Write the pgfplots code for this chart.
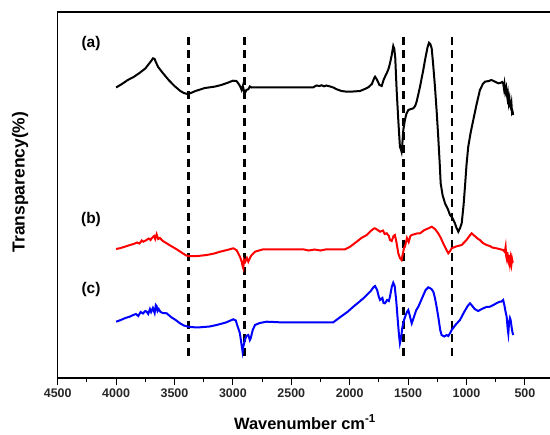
\documentclass[border=0pt]{standalone}
\usepackage{pgfplots}
\pgfplotsset{compat=1.18}
\usepackage{fontspec}
\setmainfont{Liberation Sans}
\begin{document}
\begin{tikzpicture}
\begin{axis}[
  at={(0,0)}, anchor=south west,
  scale only axis,
  width=496.4bp, height=366bp,
  x dir=reverse, y dir=reverse,
  xmin=250, xmax=4500, ymin=12, ymax=378,
  xtick={500,1000,...,4500},
  minor x tick num=1,
  xtick pos=bottom, xtick align=outside,
  major tick length=7bp, minor tick length=4bp,
  ytick=\empty,
  axis line style={line width=1.2bp},
  every tick/.style={line width=1bp, black},
  /pgf/number format/assume math mode=true,
  /pgf/number format/1000 sep={},
  xticklabel style={font=\bfseries\fontsize{12.5}{14}\selectfont, text=black!85},
  clip mode=individual,
]
% dashed markers
\addplot[black, line width=2.2bp, dash pattern=on 8bp off 5.5bp] coordinates {(3380,37) (3380,360)};
\addplot[black, line width=2.2bp, dash pattern=on 8bp off 5.5bp] coordinates {(2900,37) (2900,360)};
\addplot[black, line width=2.2bp, dash pattern=on 8bp off 5.5bp] coordinates {(1540,37) (1540,360)};
\addplot[black, line width=2.2bp, dash pattern=on 8bp off 5.5bp] coordinates {(1125,37) (1125,360)};
% (a)
\addplot[black, line width=2bp] coordinates {
(4000,87.5) (3950,84) (3900,80) (3850,77) (3800,73) (3750,68.5) (3720,64) (3700,61) (3684,58.3) (3670,59) (3660,62) (3640,67) (3600,73) (3550,80) (3500,86) (3450,91) (3420,93) (3390,94) (3360,93) (3320,91) (3280,89.5) (3240,88) (3196,87.3) (3150,86.5) (3100,85) (3050,83) (3000,80.7) (2970,81) (2954,83.3) (2935,87) (2925,90) (2915,86) (2905,91) (2897,93.3) (2885,90) (2868,89.3) (2855,86.5) (2840,87.5) (2825,87.3) (2600,87.3) (2312,87.3) (2285,85.5) (2260,86) (2240,85.3) (2220,86.3) (2200,85.5) (2167,86.5) (2140,87.5) (2111,89.3) (2070,91) (2026,91.7) (1970,91.5) (1912,91) (1870,89) (1841,87.3) (1810,84) (1790,78) (1783,76.7) (1770,79) (1745,85) (1726,86) (1710,80) (1695,76) (1683,73.3) (1665,68) (1655,63.3) (1640,55) (1627,46) (1618,49) (1610,58) (1598,90) (1584,120) (1570,146.7) (1560,150) (1556,151.7) (1550,145) (1541,130) (1530,122) (1527,120) (1515,114) (1498,110) (1475,109) (1455,108.3) (1440,106) (1427,101.7) (1410,93) (1398,86.7) (1370,70) (1355,60) (1335,48) (1321,42.7) (1310,44) (1298,48.3) (1285,65) (1270,86.7) (1255,112) (1242,136.7) (1230,162) (1221,183.3) (1205,195) (1184,203.3) (1160,209) (1141,215) (1120,218) (1099,223.3) (1085,228) (1070,231.7) (1055,228) (1041,223.3) (1025,205) (1013,186.7) (1000,165) (985,146.7) (965,133) (942,120) (915,105) (885,90) (860,84) (842,81.7) (810,81) (786,80) (760,81.5) (729,83.3) (710,83) (695,82) (686,83.3) (680,88) (675,84) (668,92) (660,88) (656,93.3) (650,98) (645,94) (638,103) (632,99) (628,105) (620,108) (615,104) (610,113) (605,112) (600,115)};
% (b)
\addplot[red, line width=2bp] coordinates {
(4000,249) (3960,248) (3920,246.5) (3881,245) (3850,244) (3820,242.5) (3800,243.5) (3780,240.5) (3767,241.7) (3740,240) (3720,238.5) (3705,240) (3696,238.3) (3675,236) (3665,239) (3653,234.3) (3640,239) (3625,238) (3600,241) (3567,243.3) (3530,246) (3481,249.3) (3440,252.5) (3400,255.5) (3382,256) (3300,256) (3224,255) (3160,253.5) (3110,251.7) (3050,250) (2997,248.3) (2970,250) (2954,253.3) (2935,258) (2925,261.7) (2915,267) (2911,268.3) (2905,260) (2895,262) (2880,258) (2868,261.7) (2850,257) (2839,255) (2811,251.7) (2782,250.7) (2740,249.3) (2500,249.3) (2400,249.3) (2350,250.5) (2300,249.5) (2250,250.5) (2200,249.3) (2040,249.3) (2000,247) (1940,241.7) (1900,238) (1854,235) (1820,231) (1790,228.3) (1783,228.3) (1760,230) (1740,231.7) (1715,230.5) (1700,234) (1683,233.3) (1665,236) (1655,240) (1640,241) (1625,236) (1613,235) (1600,242) (1584,253.3) (1570,258) (1556,260) (1545,254) (1535,248) (1527,246.7) (1510,238) (1495,242) (1480,236) (1469,235) (1440,234) (1420,233.3) (1398,233.3) (1360,230) (1320,228) (1298,226.7) (1270,229) (1242,233.3) (1220,238) (1199,243.3) (1175,249) (1156,253.3) (1140,251) (1127,248.3) (1090,246.5) (1041,245) (1000,240) (975,236) (956,233.3) (930,236) (900,239) (885,240) (860,243) (828,245) (800,246) (780,247.5) (743,248.3) (720,249) (686,250) (672,252) (665,247) (660,256) (656,258.3) (650,252) (645,260) (640,262) (635,255) (628,263.3) (622,258) (615,264) (610,259) (605,262) (600,261.7)};
% (c)
\addplot[blue, line width=2bp] coordinates {
(4000,321.7) (3960,320) (3920,318) (3880,316.5) (3853,315) (3830,314) (3810,316) (3790,312) (3770,313.5) (3750,311) (3738,311.7) (3725,314) (3710,309) (3700,312) (3685,308) (3670,313) (3660,305) (3653,306) (3645,311) (3635,309) (3620,312) (3600,313) (3567,313.3) (3530,317) (3490,320) (3453,323.3) (3420,325.5) (3382,326.7) (3330,327.3) (3282,327.3) (3200,326.5) (3139,325) (3060,322.5) (2997,319.3) (2975,320.5) (2968,323.3) (2955,328) (2940,333.3) (2928,343) (2917,351.7) (2910,346) (2897,340) (2885,336) (2868,335) (2855,340) (2848,338.3) (2830,330) (2811,325) (2770,323) (2711,321.7) (2650,322) (2600,322.3) (2140,322.3) (2080,317) (2020,312) (1969,306.7) (1920,302) (1880,298) (1854,295) (1820,291) (1795,287) (1783,286) (1765,290) (1750,297) (1740,300) (1720,298) (1710,303) (1698,303.3) (1680,300) (1665,301) (1655,296.7) (1640,287) (1627,282.7) (1615,286) (1602,300) (1590,318) (1578,335) (1570,343.3) (1560,338) (1550,328) (1535,320) (1520,315) (1510,312) (1498,310) (1485,316) (1469,323.3) (1450,317) (1430,310) (1412,306.7) (1380,298) (1350,290) (1327,287.3) (1300,289) (1284,291.7) (1270,298) (1256,306.7) (1240,318) (1225,330) (1213,335) (1190,336.5) (1170,335) (1156,336) (1140,333) (1127,330) (1095,325) (1056,320) (1020,312) (990,306) (970,303.3) (950,306) (930,309) (900,311) (885,310) (860,308.5) (830,307) (800,306.7) (770,305) (740,303) (714,301.7) (700,301.5) (686,300) (676,305) (665,312) (656,316.7) (648,328) (642,333.3) (635,322) (628,318) (622,320) (615,326) (610,330) (605,333) (600,335)};
\node[font=\bfseries\fontsize{15.5}{18}\selectfont] at (axis cs:4215,44) {(a)};
\node[font=\bfseries\fontsize{15.5}{18}\selectfont] at (axis cs:4215,220) {(b)};
\node[font=\bfseries\fontsize{15.5}{18}\selectfont] at (axis cs:4215,290) {(c)};
\end{axis}
\node[rotate=90, anchor=base, font=\bfseries\fontsize{17.5}{20}\selectfont] at (-33bp,196bp) {Transparency(\%)};
\node[anchor=base, font=\bfseries\fontsize{16.5}{20}\selectfont] at (247.3bp,-51bp) {Wavenumber cm\textsuperscript{-1}};
\pgfresetboundingbox
\path (-57.7bp,-57bp) rectangle (492.3bp,378bp);
\end{tikzpicture}
\end{document}
